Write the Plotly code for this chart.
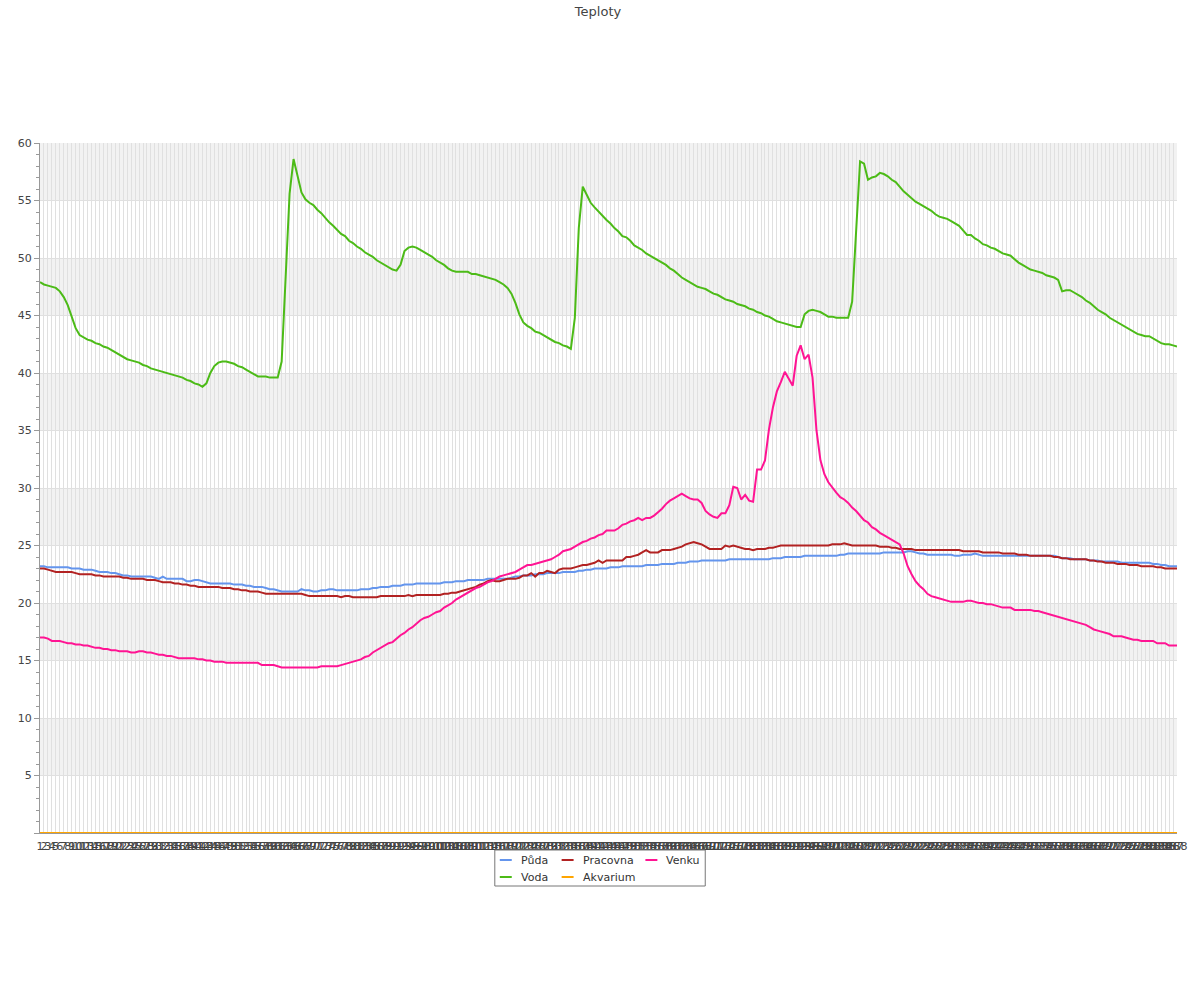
import plotly.graph_objects as go

labels = [str(i) for i in range(1, 289)]

puda = [
    23.2, 23.2, 23.1, 23.1, 23.1, 23.1, 23.1, 23.1, 23.0, 23.0, 23.0, 22.9,
    22.9, 22.9, 22.8, 22.7, 22.7, 22.7, 22.6, 22.6, 22.5, 22.4, 22.4, 22.3,
    22.3, 22.3, 22.3, 22.3, 22.3, 22.2, 22.1, 22.3, 22.1, 22.1, 22.1, 22.1,
    22.1, 21.9, 21.9, 22.0, 22.0, 21.9, 21.8, 21.7, 21.7, 21.7, 21.7, 21.7,
    21.7, 21.6, 21.6, 21.6, 21.5, 21.5, 21.4, 21.4, 21.4, 21.3, 21.2, 21.2,
    21.1, 21.0, 21.0, 21.0, 21.0, 21.0, 21.2, 21.1, 21.1, 21.0, 21.0, 21.1,
    21.1, 21.2, 21.2, 21.1, 21.1, 21.1, 21.1, 21.1, 21.1, 21.2, 21.2, 21.2,
    21.3, 21.3, 21.4, 21.4, 21.4, 21.5, 21.5, 21.5, 21.6, 21.6, 21.6, 21.7,
    21.7, 21.7, 21.7, 21.7, 21.7, 21.7, 21.8, 21.8, 21.8, 21.9, 21.9, 21.9,
    22.0, 22.0, 22.0, 22.0, 22.0, 22.1, 22.1, 22.1, 22.1, 22.1, 22.1, 22.2,
    22.3, 22.3, 22.4, 22.4, 22.4, 22.5, 22.5, 22.5, 22.6, 22.6, 22.6, 22.6,
    22.7, 22.7, 22.7, 22.7, 22.8, 22.8, 22.9, 22.9, 23.0, 23.0, 23.0, 23.0,
    23.1, 23.1, 23.1, 23.2, 23.2, 23.2, 23.2, 23.2, 23.2, 23.3, 23.3, 23.3,
    23.3, 23.4, 23.4, 23.4, 23.4, 23.5, 23.5, 23.5, 23.6, 23.6, 23.6, 23.7,
    23.7, 23.7, 23.7, 23.7, 23.7, 23.7, 23.8, 23.8, 23.8, 23.8, 23.8, 23.8,
    23.8, 23.8, 23.8, 23.8, 23.8, 23.9, 23.9, 23.9, 24.0, 24.0, 24.0, 24.0,
    24.0, 24.1, 24.1, 24.1, 24.1, 24.1, 24.1, 24.1, 24.1, 24.1, 24.2, 24.2,
    24.3, 24.3, 24.3, 24.3, 24.3, 24.3, 24.3, 24.3, 24.3, 24.4, 24.4, 24.4,
    24.4, 24.4, 24.4, 24.5, 24.5, 24.4, 24.3, 24.3, 24.2, 24.2, 24.2, 24.2,
    24.2, 24.2, 24.2, 24.1, 24.1, 24.2, 24.2, 24.2, 24.3, 24.2, 24.1, 24.1,
    24.1, 24.1, 24.1, 24.1, 24.1, 24.1, 24.1, 24.1, 24.1, 24.1, 24.1, 24.1,
    24.1, 24.1, 24.1, 24.1, 24.1, 24.0, 23.9, 23.9, 23.9, 23.8, 23.8, 23.8,
    23.8, 23.7, 23.7, 23.7, 23.6, 23.6, 23.6, 23.6, 23.6, 23.5, 23.5, 23.5,
    23.5, 23.5, 23.5, 23.5, 23.5, 23.4, 23.4, 23.3, 23.3, 23.2, 23.2, 23.2,
]

voda = [
    47.9, 47.7, 47.6, 47.5, 47.4, 47.1, 46.6, 45.9, 44.9, 43.9, 43.3, 43.1,
    42.9, 42.8, 42.6, 42.5, 42.3, 42.2, 42.0, 41.8, 41.6, 41.4, 41.2, 41.1,
    41.0, 40.9, 40.7, 40.6, 40.4, 40.3, 40.2, 40.1, 40.0, 39.9, 39.8, 39.7,
    39.6, 39.4, 39.3, 39.1, 39.0, 38.8, 39.1, 40.0, 40.6, 40.9, 41.0, 41.0,
    40.9, 40.8, 40.6, 40.5, 40.3, 40.1, 39.9, 39.7, 39.7, 39.7, 39.6, 39.6,
    39.6, 41.0, 48.5, 55.6, 58.6, 57.0, 55.7, 55.1, 54.8, 54.6, 54.2, 53.9,
    53.5, 53.1, 52.8, 52.4, 52.1, 51.9, 51.5, 51.3, 51.0, 50.8, 50.5, 50.3,
    50.1, 49.8, 49.6, 49.4, 49.2, 49.0, 48.9, 49.4, 50.6, 50.9, 51.0, 50.9,
    50.7, 50.5, 50.3, 50.1, 49.8, 49.6, 49.4, 49.1, 48.9, 48.8, 48.8, 48.8,
    48.8, 48.6, 48.6, 48.5, 48.4, 48.3, 48.2, 48.1, 47.9, 47.7, 47.4, 46.9,
    46.1, 45.1, 44.4, 44.1, 43.9, 43.6, 43.5, 43.3, 43.1, 42.9, 42.7, 42.6,
    42.4, 42.3, 42.1, 44.8, 52.6, 56.2, 55.5, 54.8, 54.4, 54.0, 53.7, 53.3,
    53.0, 52.6, 52.3, 51.9, 51.8, 51.5, 51.1, 50.9, 50.7, 50.4, 50.2, 50.0,
    49.8, 49.6, 49.4, 49.1, 48.9, 48.6, 48.3, 48.1, 47.9, 47.7, 47.5, 47.4,
    47.3, 47.1, 46.9, 46.8, 46.6, 46.4, 46.3, 46.2, 46.0, 45.9, 45.8, 45.6,
    45.5, 45.3, 45.2, 45.0, 44.9, 44.7, 44.5, 44.4, 44.3, 44.2, 44.1, 44.0,
    44.0, 45.1, 45.4, 45.5, 45.4, 45.3, 45.1, 44.9, 44.9, 44.8, 44.8, 44.8,
    44.8, 46.2, 52.0, 58.4, 58.2, 56.8, 57.0, 57.1, 57.4, 57.3, 57.1, 56.8,
    56.6, 56.2, 55.8, 55.5, 55.2, 54.9, 54.7, 54.5, 54.3, 54.1, 53.8, 53.6,
    53.5, 53.4, 53.2, 53.0, 52.8, 52.4, 52.0, 52.0, 51.7, 51.5, 51.2, 51.1,
    50.9, 50.8, 50.6, 50.4, 50.3, 50.2, 49.9, 49.6, 49.4, 49.2, 49.0, 48.9,
    48.8, 48.7, 48.5, 48.4, 48.3, 48.1, 47.1, 47.2, 47.2, 47.0, 46.8, 46.6,
    46.3, 46.1, 45.8, 45.5, 45.3, 45.1, 44.8, 44.6, 44.4, 44.2, 44.0, 43.8,
    43.6, 43.4, 43.3, 43.2, 43.2, 43.0, 42.8, 42.6, 42.5, 42.5, 42.4, 42.3,
]

pracovna = [
    23.0, 23.0, 22.9, 22.8, 22.7, 22.7, 22.7, 22.7, 22.7, 22.6, 22.5, 22.5,
    22.5, 22.5, 22.4, 22.4, 22.3, 22.3, 22.3, 22.3, 22.3, 22.2, 22.2, 22.1,
    22.1, 22.1, 22.1, 22.0, 22.0, 22.0, 21.9, 21.8, 21.8, 21.8, 21.7, 21.7,
    21.6, 21.6, 21.5, 21.5, 21.4, 21.4, 21.4, 21.4, 21.4, 21.4, 21.3, 21.3,
    21.3, 21.2, 21.2, 21.1, 21.1, 21.0, 21.0, 21.0, 20.9, 20.8, 20.8, 20.8,
    20.8, 20.8, 20.8, 20.8, 20.8, 20.8, 20.8, 20.7, 20.6, 20.6, 20.6, 20.6,
    20.6, 20.6, 20.6, 20.6, 20.5, 20.6, 20.6, 20.5, 20.5, 20.5, 20.5, 20.5,
    20.5, 20.5, 20.6, 20.6, 20.6, 20.6, 20.6, 20.6, 20.6, 20.7, 20.6, 20.7,
    20.7, 20.7, 20.7, 20.7, 20.7, 20.7, 20.8, 20.8, 20.9, 20.9, 21.0, 21.1,
    21.2, 21.3, 21.4, 21.6, 21.7, 21.9, 22.0, 21.9, 21.9, 22.0, 22.1, 22.1,
    22.1, 22.2, 22.4, 22.4, 22.6, 22.3, 22.6, 22.6, 22.8, 22.7, 22.6, 22.9,
    23.0, 23.0, 23.0, 23.1, 23.2, 23.3, 23.3, 23.4, 23.5, 23.7, 23.5, 23.7,
    23.7, 23.7, 23.7, 23.7, 24.0, 24.0, 24.1, 24.2, 24.4, 24.6, 24.4, 24.4,
    24.4, 24.6, 24.6, 24.6, 24.7, 24.8, 24.9, 25.1, 25.2, 25.3, 25.2, 25.1,
    24.9, 24.7, 24.7, 24.7, 24.7, 25.0, 24.9, 25.0, 24.9, 24.8, 24.7, 24.7,
    24.6, 24.7, 24.7, 24.7, 24.8, 24.8, 24.9, 25.0, 25.0, 25.0, 25.0, 25.0,
    25.0, 25.0, 25.0, 25.0, 25.0, 25.0, 25.0, 25.0, 25.1, 25.1, 25.1, 25.2,
    25.1, 25.0, 25.0, 25.0, 25.0, 25.0, 25.0, 25.0, 24.9, 24.9, 24.9, 24.8,
    24.8, 24.7, 24.7, 24.7, 24.7, 24.6, 24.6, 24.6, 24.6, 24.6, 24.6, 24.6,
    24.6, 24.6, 24.6, 24.6, 24.6, 24.5, 24.5, 24.5, 24.5, 24.5, 24.4, 24.4,
    24.4, 24.4, 24.4, 24.3, 24.3, 24.3, 24.3, 24.2, 24.2, 24.2, 24.1, 24.1,
    24.1, 24.1, 24.1, 24.1, 24.0, 24.0, 23.9, 23.9, 23.8, 23.8, 23.8, 23.8,
    23.8, 23.7, 23.7, 23.6, 23.6, 23.5, 23.5, 23.5, 23.4, 23.4, 23.4, 23.3,
    23.3, 23.3, 23.2, 23.2, 23.2, 23.2, 23.1, 23.1, 23.0, 23.0, 23.0, 23.0,
]

akvarium = [
    0, 0, 0, 0, 0, 0, 0, 0, 0, 0, 0, 0,
    0, 0, 0, 0, 0, 0, 0, 0, 0, 0, 0, 0,
    0, 0, 0, 0, 0, 0, 0, 0, 0, 0, 0, 0,
    0, 0, 0, 0, 0, 0, 0, 0, 0, 0, 0, 0,
    0, 0, 0, 0, 0, 0, 0, 0, 0, 0, 0, 0,
    0, 0, 0, 0, 0, 0, 0, 0, 0, 0, 0, 0,
    0, 0, 0, 0, 0, 0, 0, 0, 0, 0, 0, 0,
    0, 0, 0, 0, 0, 0, 0, 0, 0, 0, 0, 0,
    0, 0, 0, 0, 0, 0, 0, 0, 0, 0, 0, 0,
    0, 0, 0, 0, 0, 0, 0, 0, 0, 0, 0, 0,
    0, 0, 0, 0, 0, 0, 0, 0, 0, 0, 0, 0,
    0, 0, 0, 0, 0, 0, 0, 0, 0, 0, 0, 0,
    0, 0, 0, 0, 0, 0, 0, 0, 0, 0, 0, 0,
    0, 0, 0, 0, 0, 0, 0, 0, 0, 0, 0, 0,
    0, 0, 0, 0, 0, 0, 0, 0, 0, 0, 0, 0,
    0, 0, 0, 0, 0, 0, 0, 0, 0, 0, 0, 0,
    0, 0, 0, 0, 0, 0, 0, 0, 0, 0, 0, 0,
    0, 0, 0, 0, 0, 0, 0, 0, 0, 0, 0, 0,
    0, 0, 0, 0, 0, 0, 0, 0, 0, 0, 0, 0,
    0, 0, 0, 0, 0, 0, 0, 0, 0, 0, 0, 0,
    0, 0, 0, 0, 0, 0, 0, 0, 0, 0, 0, 0,
    0, 0, 0, 0, 0, 0, 0, 0, 0, 0, 0, 0,
    0, 0, 0, 0, 0, 0, 0, 0, 0, 0, 0, 0,
    0, 0, 0, 0, 0, 0, 0, 0, 0, 0, 0, 0,
]

venku = [
    17.0, 17.0, 16.9, 16.7, 16.7, 16.7, 16.6, 16.5, 16.5, 16.4, 16.4, 16.3,
    16.3, 16.2, 16.1, 16.1, 16.0, 16.0, 15.9, 15.9, 15.8, 15.8, 15.8, 15.7,
    15.7, 15.8, 15.8, 15.7, 15.7, 15.6, 15.5, 15.5, 15.4, 15.4, 15.3, 15.2,
    15.2, 15.2, 15.2, 15.2, 15.1, 15.1, 15.0, 15.0, 14.9, 14.9, 14.9, 14.8,
    14.8, 14.8, 14.8, 14.8, 14.8, 14.8, 14.8, 14.8, 14.6, 14.6, 14.6, 14.6,
    14.5, 14.4, 14.4, 14.4, 14.4, 14.4, 14.4, 14.4, 14.4, 14.4, 14.4, 14.5,
    14.5, 14.5, 14.5, 14.5, 14.6, 14.7, 14.8, 14.9, 15.0, 15.1, 15.3, 15.4,
    15.7, 15.9, 16.1, 16.3, 16.5, 16.6, 16.9, 17.2, 17.4, 17.7, 17.9, 18.2,
    18.5, 18.7, 18.8, 19.0, 19.2, 19.3, 19.6, 19.8, 20.0, 20.3, 20.5, 20.7,
    20.9, 21.1, 21.3, 21.4, 21.6, 21.8, 21.9, 22.1, 22.3, 22.4, 22.5, 22.6,
    22.7, 22.9, 23.1, 23.3, 23.3, 23.4, 23.5, 23.6, 23.7, 23.8, 24.0, 24.2,
    24.5, 24.6, 24.7, 24.9, 25.1, 25.3, 25.4, 25.6, 25.7, 25.9, 26.0, 26.3,
    26.3, 26.3, 26.5, 26.8, 26.9, 27.1, 27.2, 27.4, 27.2, 27.4, 27.4, 27.6,
    27.9, 28.2, 28.6, 28.9, 29.1, 29.3, 29.5, 29.3, 29.1, 29.0, 29.0, 28.7,
    28.0, 27.7, 27.5, 27.4, 27.8, 27.8, 28.5, 30.1, 30.0, 29.0, 29.4, 28.9,
    28.8, 31.6, 31.6, 32.4, 35.1, 37.0, 38.4, 39.2, 40.1, 39.5, 38.9, 41.5,
    42.4, 41.2, 41.6, 39.6, 35.0, 32.4, 31.2, 30.5, 30.0, 29.6, 29.2, 29.0,
    28.7, 28.3, 28.0, 27.6, 27.2, 27.0, 26.6, 26.4, 26.1, 25.9, 25.7, 25.5,
    25.3, 25.1, 24.3, 23.2, 22.5, 21.9, 21.5, 21.2, 20.8, 20.6, 20.5, 20.4,
    20.3, 20.2, 20.1, 20.1, 20.1, 20.1, 20.2, 20.2, 20.1, 20.0, 20.0, 19.9,
    19.9, 19.8, 19.7, 19.6, 19.6, 19.6, 19.4, 19.4, 19.4, 19.4, 19.4, 19.3,
    19.3, 19.2, 19.1, 19.0, 18.9, 18.8, 18.7, 18.6, 18.5, 18.4, 18.3, 18.2,
    18.1, 17.9, 17.7, 17.6, 17.5, 17.4, 17.3, 17.1, 17.1, 17.1, 17.0, 16.9,
    16.8, 16.8, 16.7, 16.7, 16.7, 16.7, 16.5, 16.5, 16.5, 16.3, 16.3, 16.3,
]

series_names = ["Půda", "Voda", "Pracovna", "Akvarium", "Venku"]
series_colors = ["#6495ED", "#4CBB17", "#B22222", "#FFA500", "#FF1493"]
series_values = [puda, voda, pracovna, akvarium, venku]

for s in series_values:
    assert len(s) == len(labels), len(s)

FONT = "DejaVu Sans"

fig = go.Figure()
for name, color, vals in zip(series_names, series_colors, series_values):
    fig.add_trace(go.Scatter(
        x=labels, y=vals, name=name, mode="lines",
        line=dict(color=color, width=2), showlegend=False,
    ))

W, H = 1200, 1000
# plot area in page pixels: left 40, right 1180, top 143, bottom 833
L, R, T, B = 40, 1180, 143, 833


def px(x):
    return (x - L) / (R - L)


def py(y):
    return (B - y) / (B - T)


shapes = []
# alternating horizontal bands
for lo in range(5, 60, 10):
    shapes.append(dict(type="rect", xref="paper", yref="y", x0=0, x1=1,
                       y0=lo, y1=lo + 5, fillcolor="#f2f2f2",
                       line=dict(width=0), layer="below"))

# custom legend box
shapes.append(dict(type="rect", xref="paper", yref="paper",
                   x0=px(496), x1=px(707), y0=py(850), y1=py(886),
                   line=dict(color="#777", width=1), fillcolor="white"))

legend_layout = [
    ("Půda", 501, 860), ("Pracovna", 563, 860), ("Venku", 647, 860),
    ("Voda", 501, 877), ("Akvarium", 563, 877),
]
annotations = []
for name, x0, yy in legend_layout:
    color = series_colors[series_names.index(name)]
    shapes.append(dict(type="line", xref="paper", yref="paper",
                       x0=px(x0), x1=px(x0 + 12), y0=py(yy), y1=py(yy),
                       line=dict(color=color, width=2)))
    annotations.append(dict(text=name, xref="paper", yref="paper",
                            x=px(x0 + 19), y=py(yy), xanchor="left",
                            yanchor="middle", showarrow=False,
                            font=dict(family=FONT, size=11, color="#333")))

yticks = list(range(0, 61, 5))
fig.update_layout(
    width=W, height=H, autosize=False,
    margin=dict(l=L, r=W - R, t=T, b=H - B, pad=0),
    paper_bgcolor="white", plot_bgcolor="white",
    font=dict(family=FONT, size=11, color="#444"),
    title=dict(text="Teploty", x=598 / W, xref="container",
               xanchor="center", y=1 - 11 / H, yref="container",
               yanchor="middle",
               font=dict(family=FONT, size=13, color="#444")),
    shapes=shapes, annotations=annotations, showlegend=False,
    xaxis=dict(type="category", range=[0, len(labels) - 1],
               tickmode="linear", dtick=1, tickangle=0,
               showgrid=True, gridcolor="#e0e0e0", gridwidth=1,
               showline=True, linecolor="#999", linewidth=1,
               ticks="", zeroline=False, ticklabelstandoff=3,
               tickfont=dict(family=FONT, size=11, color="#444")),
    yaxis=dict(range=[0, 60], tickmode="array", tickvals=yticks,
               ticktext=["" if v == 0 else str(v) for v in yticks],
               showgrid=True, gridcolor="#e0e0e0", gridwidth=1,
               showline=True, linecolor="#999", linewidth=1,
               ticks="outside", ticklen=5, tickcolor="#999",
               zeroline=False,
               minor=dict(tickmode="linear", tick0=0, dtick=1,
                          ticks="outside", ticklen=3, tickcolor="#999",
                          showgrid=False),
               tickfont=dict(family=FONT, size=11, color="#444")),
)

fig.write_html(
    "out.html",
    config={"displayModeBar": False},
    post_script="document.body.style.margin='0';"
                "document.body.style.overflow='hidden';",
)
